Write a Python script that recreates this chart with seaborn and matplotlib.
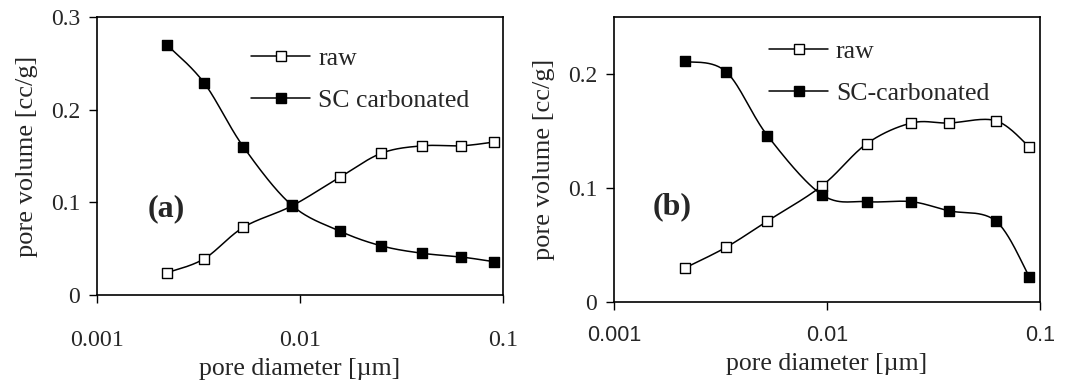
import numpy as np
import matplotlib
matplotlib.use("Agg")
import matplotlib.pyplot as plt
from matplotlib.lines import Line2D
from matplotlib.ticker import FixedLocator, FixedFormatter, NullLocator
import seaborn as sns

sns.set_style("ticks")
plt.rcParams['font.family'] = ['Liberation Serif', 'DejaVu Serif']

# panel (a)
diam_a = [0.00221, 0.00337, 0.00526, 0.0091, 0.0157, 0.0252, 0.0401, 0.0624, 0.0900]
raw_a = [0.024, 0.039, 0.073, 0.096, 0.127, 0.153, 0.161, 0.161, 0.165]
sc_a = [0.270, 0.229, 0.160, 0.097, 0.069, 0.053, 0.045, 0.041, 0.036]

# panel (b)
diam_b = [0.00216, 0.00336, 0.00525, 0.00948, 0.0154, 0.0249, 0.0373, 0.0621, 0.0891]
raw_b = [0.030, 0.048, 0.071, 0.102, 0.139, 0.157, 0.157, 0.159, 0.136]
sc_b = [0.211, 0.202, 0.146, 0.094, 0.088, 0.088, 0.080, 0.071, 0.022]

xticks = [0.001, 0.01, 0.1]
xticklabels = ['0.001', '0.01', '0.1']
yticks_a = [0, 0.1, 0.2, 0.3]
yticks_b = [0, 0.1, 0.2]
ytick_labels_a = ['0', '0.1', '0.2', '0.3']
ytick_labels_b = ['0', '0.1', '0.2']


def smooth(x, y, sx, sy, n=30):
    # Excel-style smoothed line (Bezier, 1/6 tension) worked out in pixel-like space
    u = np.log10(np.asarray(x)) * sx
    v = np.asarray(y) * sy
    P = np.column_stack([u, v])
    P = np.vstack([P[0], P, P[-1]])
    out = []
    t = np.linspace(0, 1, n)[:, None]
    for i in range(1, len(P) - 2):
        p0, p3 = P[i], P[i + 1]
        p1 = p0 + (P[i + 1] - P[i - 1]) / 6
        p2 = p3 - (P[i + 2] - P[i]) / 6
        seg = (1 - t) ** 3 * p0 + 3 * (1 - t) ** 2 * t * p1 + 3 * (1 - t) * t ** 2 * p2 + t ** 3 * p3
        out.append(seg if i == 1 else seg[1:])
    out = np.vstack(out)
    return 10 ** (out[:, 0] / sx), out[:, 1] / sy


fig = plt.figure(figsize=(10.68, 3.83), dpi=100)
ax1 = fig.add_axes([0.0908, 0.2298, 0.3801, 0.7258])
ax2 = fig.add_axes([0.5749, 0.2115, 0.3989, 0.7441])

panels = [
    (ax1, diam_a, raw_a, sc_a, 0.3, yticks_a, ytick_labels_a, 'SC carbonated', '(a)',
     (0.17, 0.31), (0.355, 0.93), 'Liberation Serif', 17.3, 19),
    (ax2, diam_b, raw_b, sc_b, 0.25, yticks_b, ytick_labels_b, 'SC-carbonated', '(b)',
     (0.136, 0.333), (0.34, 0.955), 'Liberation Sans', 15.5, 10.5),
]

for ax, d, raw, sc, ymax, yt, ytl, sc_label, tag, tagpos, legpos, xfont, xfs, xpad in panels:
    ax.set_xscale('log')
    ax.set_xlim(0.001, 0.1)
    ax.set_ylim(0, ymax)
    bb = ax.get_position()
    sx = bb.width * 1068 / 2.0
    sy = bb.height * 383 / ymax
    for yv, face in [(raw, 'white'), (sc, 'black')]:
        xs, ys = smooth(d, yv, sx, sy)
        sns.lineplot(x=xs, y=ys, ax=ax, color='black', lw=1.1, sort=False, estimator=None)
        sns.scatterplot(x=d, y=yv, ax=ax, marker='s', s=60, color=face,
                        edgecolor='black', linewidth=1.0, zorder=3)
    ax.xaxis.set_major_locator(FixedLocator(xticks))
    ax.xaxis.set_major_formatter(FixedFormatter(xticklabels))
    ax.xaxis.set_minor_locator(NullLocator())
    ax.set_yticks(yt)
    ax.set_yticklabels(ytl)
    for lab in ax.get_xticklabels():
        lab.set_fontfamily(xfont)
        lab.set_fontsize(xfs)
    ax.tick_params(direction='out', length=6, width=1.0, color='black')
    ax.tick_params(axis='x', pad=xpad)
    ax.tick_params(axis='y', labelsize=17, pad=6)
    for sp in ax.spines.values():
        sp.set_visible(True)
        sp.set_color('black')
        sp.set_linewidth(1.2)
    ax.set_xlabel('pore diameter [µm]', fontsize=18.5, labelpad=5)
    ax.set_ylabel('pore volume [cc/g]', fontsize=19, labelpad=9)
    ax.text(tagpos[0], tagpos[1], tag, transform=ax.transAxes, fontsize=23,
            fontweight='bold', ha='center', va='center')
    handles = [
        Line2D([], [], color='black', lw=1.1, marker='s', markersize=7.5,
               markerfacecolor='white', markeredgecolor='black'),
        Line2D([], [], color='black', lw=1.1, marker='s', markersize=7.5,
               markerfacecolor='black', markeredgecolor='black'),
    ]
    ax.legend(handles, ['raw', sc_label], loc='upper left', bbox_to_anchor=legpos,
              frameon=False, fontsize=18.5, handlelength=2.3, handletextpad=0.3,
              labelspacing=0.75, borderaxespad=0)

fig.savefig('out.png', dpi=100)
